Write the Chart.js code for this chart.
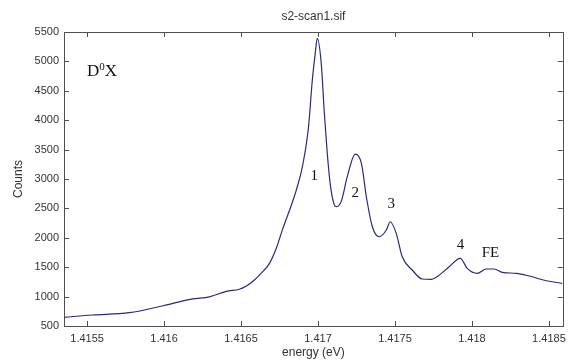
<!DOCTYPE html>
<html>
<head>
<meta charset="utf-8">
<script src="https://cdn.jsdelivr.net/npm/chart.js@4.4.1/dist/chart.umd.min.js"></script>
<style>
  html, body { margin: 0; padding: 0; background: #fff; }
  #wrap { width: 572px; height: 362px; }
</style>
</head>
<body>
<div id="wrap"><canvas id="spectrum" width="572" height="362"></canvas></div>
<script>
// photon energy (eV)
const energy = [
  1.415353, 1.415534, 1.415775, 1.415995, 1.416184, 1.416294, 1.416405, 1.416489,
  1.416535, 1.416587, 1.416619, 1.416684, 1.416729, 1.416768, 1.416833, 1.416859,
  1.416898, 1.416937, 1.416963, 1.416982, 1.416995, 1.417021, 1.417041, 1.417060,
  1.417080, 1.417106, 1.417119, 1.417151, 1.417190, 1.417242, 1.417282, 1.417314,
  1.417353, 1.417398, 1.417444, 1.417469, 1.417508, 1.417547, 1.417612, 1.417677,
  1.417736, 1.417768, 1.417852, 1.417924, 1.417969, 1.418034, 1.418093, 1.418145,
  1.418197, 1.418288, 1.418372, 1.418483, 1.418586
];
// detector counts
const counts = [
  648, 687, 726, 845, 960, 995, 1090, 1125,
  1180, 1282, 1367, 1560, 1821, 2130, 2600, 2812,
  3200, 3850, 4682, 5136, 5391, 4966, 4123, 3441,
  2900, 2560, 2528, 2620, 3039, 3424, 3266, 2698,
  2188, 2018, 2132, 2273, 2076, 1678, 1452, 1299,
  1294, 1328, 1508, 1651, 1481, 1396, 1469, 1469,
  1413, 1396, 1350, 1270, 1226
];

const xTicks = [1.4155, 1.416, 1.4165, 1.417, 1.4175, 1.418, 1.4185];
const yTicks = [500, 1000, 1500, 2000, 2500, 3000, 3500, 4000, 4500, 5000, 5500];

// peak labels (data coordinates)
const peakNames = ['1', '2', '3', '4', 'FE'];
const peakX = [1.416976, 1.417242, 1.417476, 1.417925, 1.418120];
const peakY = [3050, 2761, 2574, 1877, 1741];

const points = energy.map((e, i) => ({ x: e, y: counts[i] }));

/**
 * Matlab-style box with inward ticks, title and peak annotations
 */
const matlabFrame = {
  id: 'matlabFrame',
  afterDraw(chart) {
    const { ctx, chartArea: a, scales } = chart;
    const xs = scales.x, ys = scales.y;
    const tl = 5;
    ctx.save();
    ctx.strokeStyle = '#505050';
    ctx.lineWidth = 1;
    ctx.beginPath();
    xTicks.forEach(v => {
      const px = Math.round(xs.getPixelForValue(v)) + 0.5;
      ctx.moveTo(px, a.bottom); ctx.lineTo(px, a.bottom - tl);
      ctx.moveTo(px, a.top); ctx.lineTo(px, a.top + tl);
    });
    yTicks.forEach(v => {
      const py = Math.round(ys.getPixelForValue(v)) + 0.5;
      ctx.moveTo(a.left, py); ctx.lineTo(a.left + tl, py);
      ctx.moveTo(a.right, py); ctx.lineTo(a.right - tl, py);
    });
    ctx.stroke();
    ctx.strokeRect(Math.round(a.left) + 0.5, Math.round(a.top) + 0.5,
      Math.round(a.right - a.left), Math.round(a.bottom - a.top));

    // title
    ctx.fillStyle = '#333';
    ctx.font = '12px "Liberation Sans", Arial, sans-serif';
    ctx.textAlign = 'center';
    ctx.textBaseline = 'middle';
    ctx.fillText('s2-scan1.sif', (a.left + a.right) / 2, 17);

    // peak labels
    ctx.fillStyle = '#111';
    ctx.font = '15px "Liberation Serif", "Times New Roman", serif';
    peakNames.forEach((t, i) => {
      ctx.fillText(t, xs.getPixelForValue(peakX[i]), ys.getPixelForValue(peakY[i]));
    });

    // D0X with superscript
    ctx.textAlign = 'left';
    ctx.textBaseline = 'alphabetic';
    let x0 = xs.getPixelForValue(1.4155);
    const y0 = ys.getPixelForValue(4750);
    ctx.font = '17px "Liberation Serif", "Times New Roman", serif';
    ctx.fillText('D', x0, y0);
    x0 += ctx.measureText('D').width;
    ctx.font = '11px "Liberation Serif", "Times New Roman", serif';
    ctx.fillText('0', x0, y0 - 6);
    x0 += ctx.measureText('0').width;
    ctx.font = '17px "Liberation Serif", "Times New Roman", serif';
    ctx.fillText('X', x0, y0);
    ctx.restore();
  }
};

const tickFont = { family: '"Liberation Sans", Arial, sans-serif', size: 11 };
const titleFont = { family: '"Liberation Sans", Arial, sans-serif', size: 12 };

new Chart(document.getElementById('spectrum'), {
  type: 'scatter',
  data: {
    datasets: [{
      data: points,
      showLine: true,
      borderColor: '#2a2a78',
      borderWidth: 1.2,
      pointRadius: 0,
      cubicInterpolationMode: 'monotone',
      fill: false
    }]
  },
  options: {
    responsive: false,
    animation: false,
    layout: { padding: { top: 32, right: 9, left: 0, bottom: 0 } },
    plugins: {
      legend: { display: false },
      tooltip: { enabled: false }
    },
    scales: {
      x: {
        type: 'linear',
        min: 1.41535,
        max: 1.41859,
        grid: { display: false, drawTicks: false },
        border: { display: false },
        afterBuildTicks: s => { s.ticks = xTicks.map(v => ({ value: v })); },
        afterFit: s => { s.height = 36; },
        ticks: {
          padding: 6,
          color: '#333',
          font: tickFont,
          maxRotation: 0,
          autoSkip: false,
          callback: v => String(+(+v).toFixed(4))
        },
        title: {
          display: true,
          text: 'energy (eV)',
          color: '#333',
          font: titleFont,
          padding: { top: 0, bottom: 2 }
        }
      },
      y: {
        type: 'linear',
        min: 500,
        max: 5500,
        grid: { display: false, drawTicks: false },
        border: { display: false },
        afterBuildTicks: s => { s.ticks = yTicks.map(v => ({ value: v })); },
        afterFit: s => { s.width = 64; },
        ticks: {
          padding: 5,
          color: '#333',
          font: tickFont,
          autoSkip: false,
          callback: v => String(v)
        },
        title: {
          display: true,
          text: 'Counts',
          color: '#333',
          font: titleFont,
          padding: { top: 11, bottom: 0 }
        }
      }
    }
  },
  plugins: [matlabFrame]
});
</script>
</body>
</html>
